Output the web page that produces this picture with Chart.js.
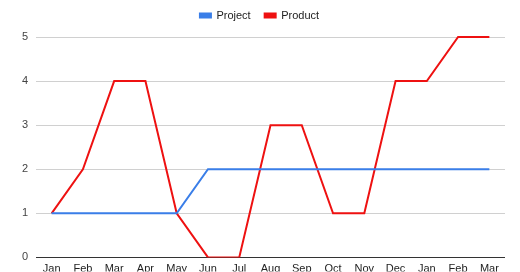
<!DOCTYPE html>
<html>
<head>
<meta charset="utf-8">
<script src="https://cdn.jsdelivr.net/npm/chart.js@4/dist/chart.umd.min.js"></script>
<style>
html,body{margin:0;padding:0;background:#fff;}
#wrap{width:520px;height:272px;}
</style>
</head>
<body>
<div id="wrap"><canvas id="c" width="520" height="272"></canvas></div>
<script>
const categories = ["Jan","Feb","Mar","Apr","May","Jun","Jul","Aug","Sep","Oct","Nov","Dec","Jan","Feb","Mar"];
const projectValues = [1,1,1,1,1,2,2,2,2,2,2,2,2,2,2];
const productValues = [1,2,4,4,1,0,0,3,3,1,1,4,4,5,5];
const yTicks = [0,1,2,3,4,5];

Chart.defaults.font.family = "'Liberation Sans', Arial, sans-serif";
Chart.defaults.font.size = 11;

const legendSpace = {
  id: 'legendSpace',
  beforeInit(chart) {
    const orig = chart.legend.fit;
    chart.legend.fit = function() { orig.bind(this)(); this.height += 6; };
  },
  afterLayout(chart) {
    chart.legend.left += 7;
    chart.legend.right += 7;
  }
};

new Chart(document.getElementById('c'), {
  type: 'line',
  data: {
    labels: categories,
    datasets: [
      {label: 'Project', data: projectValues, borderColor: '#3a7ee8', backgroundColor: '#3a7ee8', borderWidth: 2, pointRadius: 0, tension: 0, clip: {left: false, right: false, top: 1, bottom: 0}},
      {label: 'Product', data: productValues, borderColor: '#ee1111', backgroundColor: '#ee1111', borderWidth: 2, pointRadius: 0, tension: 0, clip: {left: false, right: false, top: 1, bottom: 0}}
    ]
  },
  plugins: [legendSpace],
  options: {
    responsive: false,
    animation: false,
    layout: {padding: {left: 0, right: 15, top: -4, bottom: 0}},
    plugins: {
      legend: {
        position: 'top',
        labels: {boxWidth: 11, boxHeight: 4, padding: 14, color: '#222', font: {size: 11}}
      },
      tooltip: {enabled: false}
    },
    scales: {
      x: {
        offset: true,
        afterFit: (s) => { s.height = 14; },
        grid: {display: false, drawTicks: false},
        border: {display: false},
        ticks: {color: '#222', padding: 7, maxRotation: 0, autoSkip: false, font: {size: 11, lineHeight: 0.9}}
      },
      y: {
        min: 0, max: 5,
        afterFit: (s) => { s.width = 36; },
        afterBuildTicks: (s) => { s.ticks = yTicks.map(v => ({value: v})); },
        grid: {drawTicks: false, color: (ctx) => (ctx.tick && ctx.tick.value === 0) ? '#333' : '#d0d0d0', lineWidth: 1},
        border: {display: false},
        ticks: {color: '#444', padding: 8, font: {size: 11}}
      }
    }
  }
});
</script>
</body>
</html>
